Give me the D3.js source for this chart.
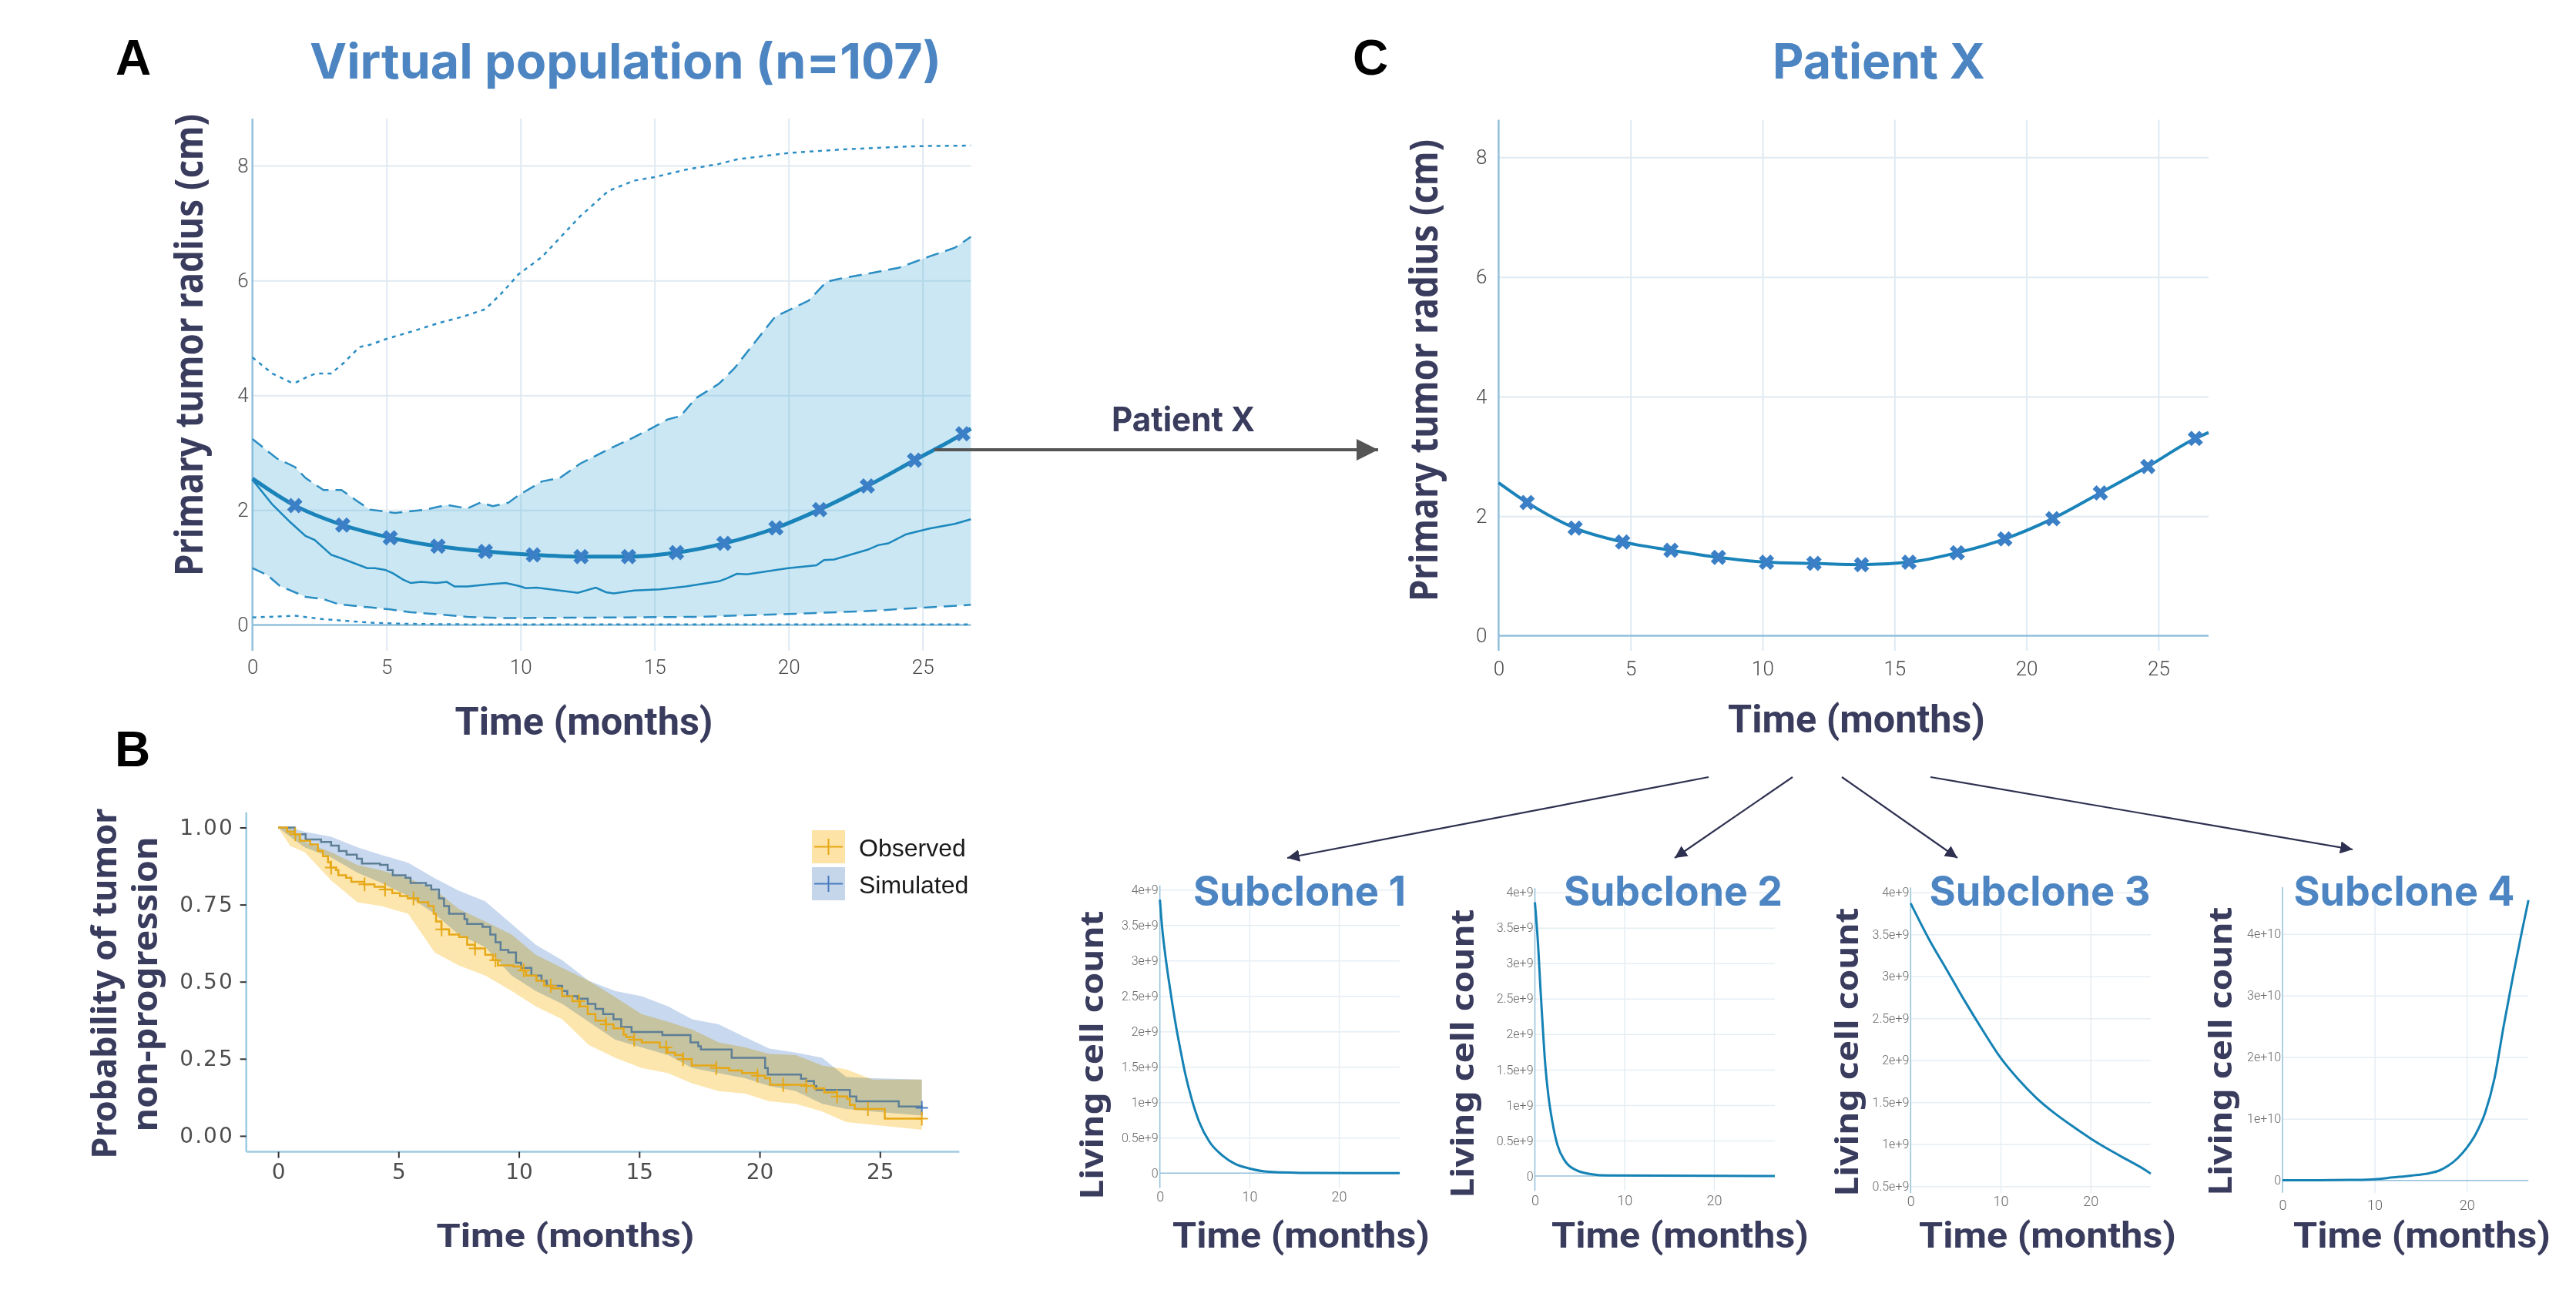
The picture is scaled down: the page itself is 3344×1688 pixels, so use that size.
<!DOCTYPE html>
<html>
<head>
<meta charset="utf-8">
<script src="https://cdn.jsdelivr.net/npm/d3@7"></script>
<style>
    html, body { margin: 0; padding: 0; background: #fff; }
    svg { display: block; }
</style>
</head>
<body>
<div id="figure"></div>
<script>
// ---------- data ----------

const monthTicks = [0, 5, 10, 15, 20, 25];
const gridMonths = [5, 10, 15, 20, 25];
const radiusTicks = [0, 2, 4, 6, 8];

// Panel A: virtual population envelopes [month, cm]
const popMax = [[0,4.66],[0.74,4.38],[1.41,4.23],[1.65,4.23],[2.08,4.33],[2.37,4.38],[2.94,4.38],[3.42,4.57],[3.99,4.84],[4.38,4.88],[5.05,4.99],[6.0,5.12],[6.96,5.26],[7.92,5.38],[8.69,5.50],[9.36,5.81],[9.93,6.11],[10.8,6.41],[12.23,7.12],[13.28,7.56],[14.24,7.74],[15.0,7.80],[16.16,7.93],[17.4,8.03],[18.07,8.11],[19.99,8.22],[21.9,8.28],[24.78,8.34],[26.8,8.35]];
const popUpper = [[0,3.24],[0.91,2.90],[1.59,2.75],[1.98,2.56],[2.65,2.35],[3.32,2.35],[3.9,2.16],[4.38,2.01],[5.33,1.95],[6.48,2.01],[7.25,2.09],[8.02,2.03],[8.5,2.13],[8.97,2.07],[9.55,2.13],[9.93,2.26],[10.8,2.50],[11.46,2.56],[12.23,2.81],[13.28,3.06],[14.24,3.27],[14.9,3.43],[15.49,3.58],[15.97,3.64],[16.54,3.95],[17.4,4.20],[17.98,4.47],[18.65,4.87],[19.5,5.37],[20.18,5.52],[20.75,5.65],[21.42,5.98],[21.9,6.03],[22.86,6.11],[24.1,6.22],[25.26,6.42],[26.2,6.57],[26.8,6.76]];
const popMedian = [[0,2.53],[0.74,2.10],[1.41,1.79],[1.98,1.55],[2.32,1.48],[2.94,1.22],[3.32,1.16],[4.28,0.99],[4.57,0.99],[4.95,0.96],[5.24,0.90],[5.62,0.79],[5.91,0.73],[6.29,0.75],[6.87,0.73],[7.25,0.75],[7.54,0.67],[8.02,0.67],[8.88,0.71],[9.45,0.73],[9.93,0.68],[10.2,0.64],[10.6,0.65],[12.14,0.56],[12.81,0.65],[13.19,0.57],[13.48,0.55],[14.24,0.60],[15.2,0.62],[16.16,0.67],[17.4,0.76],[17.69,0.81],[18.07,0.89],[18.45,0.88],[19.99,0.99],[21.04,1.04],[21.32,1.13],[21.7,1.14],[22.95,1.31],[23.34,1.39],[23.72,1.42],[24.39,1.58],[25.26,1.68],[26.2,1.76],[26.8,1.84]];
const popLower = [[0,0.99],[0.55,0.87],[1.02,0.68],[1.98,0.49],[2.65,0.45],[3.22,0.36],[4.28,0.31],[5.14,0.27],[5.91,0.22],[7.06,0.18],[8.02,0.14],[9.36,0.12],[13.5,0.13],[16.5,0.14],[20,0.19],[22.86,0.24],[26.8,0.35]];
const popMin = [[0,0.13],[1.59,0.16],[2.65,0.10],[4.38,0.04],[5.6,0.02],[8,0.01],[26.8,0.01]];

// Patient X in panel A
const patientA_t = [1.58,3.37,5.14,6.92,8.69,10.48,12.26,14.03,15.82,17.59,19.53,21.16,22.94,24.7,26.5];
const patientA_v = [2.08,1.74,1.52,1.37,1.28,1.22,1.19,1.19,1.26,1.42,1.69,2.01,2.42,2.87,3.33];
const patientA_ends = [[0,2.55],[26.8,3.42]];

// Patient X in panel C
const patientC_t = [1.08,2.90,4.70,6.53,8.33,10.15,11.95,13.75,15.55,17.38,19.18,21.0,22.8,24.6,26.4];
const patientC_v = [2.23,1.80,1.57,1.43,1.31,1.23,1.21,1.19,1.23,1.39,1.62,1.96,2.39,2.83,3.30];
const patientC_ends = [[0,2.56],[26.9,3.40]];

// Panel B: Kaplan-Meier curves [month, probability]
const kmTicks = [0, 0.25, 0.5, 0.75, 1];
const observedKM = [[0,1.0],[0.37,0.986],[0.69,0.978],[0.9,0.957],[1.33,0.945],[1.65,0.924],[1.86,0.907],[2.07,0.887],[2.18,0.870],[2.4,0.862],[2.5,0.845],[2.82,0.837],[3.04,0.824],[3.57,0.816],[4.0,0.808],[4.42,0.799],[4.74,0.787],[5.06,0.778],[5.38,0.770],[5.81,0.758],[6.24,0.745],[6.46,0.720],[6.56,0.695],[6.78,0.670],[7.1,0.653],[7.52,0.645],[7.85,0.620],[8.17,0.608],[8.6,0.587],[8.92,0.570],[9.13,0.553],[9.77,0.549],[10.09,0.537],[10.3,0.520],[10.73,0.503],[11.05,0.487],[11.37,0.478],[11.8,0.453],[12.22,0.437],[12.54,0.420],[12.86,0.395],[13.18,0.374],[13.61,0.362],[13.93,0.349],[14.35,0.328],[14.46,0.320],[14.78,0.312],[15.1,0.303],[15.85,0.287],[16.17,0.270],[16.49,0.262],[16.81,0.249],[17.18,0.228],[18.2,0.220],[18.74,0.212],[19.27,0.204],[19.91,0.195],[20.23,0.187],[20.44,0.166],[21.94,0.162],[22.26,0.154],[22.69,0.141],[23.22,0.128],[23.64,0.120],[23.75,0.100],[23.96,0.087],[25.2,0.056],[26.74,0.056]];
const simulatedKM = [[0,1.0],[0.69,0.978],[1.14,0.961],[1.78,0.953],[2.2,0.941],[2.52,0.924],[2.84,0.912],[3.27,0.899],[3.48,0.883],[4.23,0.879],[4.55,0.862],[4.76,0.845],[5.29,0.837],[5.5,0.820],[6.14,0.812],[6.36,0.799],[6.68,0.770],[6.89,0.745],[7.1,0.720],[7.74,0.703],[7.85,0.687],[8.49,0.678],[8.81,0.653],[9.03,0.628],[9.24,0.603],[9.56,0.595],[9.88,0.562],[10.09,0.545],[10.52,0.520],[10.94,0.503],[11.16,0.487],[11.8,0.470],[12.01,0.453],[12.44,0.445],[12.86,0.428],[13.18,0.412],[13.5,0.395],[13.93,0.378],[14.25,0.353],[14.68,0.337],[15.96,0.327],[17.13,0.303],[17.45,0.291],[17.56,0.280],[18.84,0.253],[20.23,0.220],[20.34,0.199],[21.72,0.185],[21.94,0.178],[22.26,0.162],[22.36,0.149],[23.75,0.128],[24.02,0.112],[25.78,0.095],[26.74,0.091]];
const observedCensor = [0.71,2.2,3.59,4.44,5.62,6.79,8.18,9.03,10.2,11.32,12.5,13.62,14.79,16.12,16.82,18.2,19.91,20.98,21.94,23.22,24.5,26.74];
const simulatedCensor = [26.74];

// confidence ribbons
const ciTimes   = [0,0.5,1.1,2.2,3.3,4.3,5.4,6.5,7.5,8.6,9.7,10.7,11.8,12.9,14.0,15.1,16.2,17.2,18.3,19.4,20.4,21.5,22.6,23.6,24.7,26.74];
const obsUpper  = [1,1,0.953,0.920,0.878,0.861,0.836,0.799,0.736,0.695,0.653,0.587,0.545,0.503,0.45,0.395,0.370,0.345,0.303,0.287,0.266,0.262,0.228,0.216,0.183,0.183];
const obsLower  = [1,0.94,0.92,0.828,0.757,0.745,0.720,0.595,0.553,0.520,0.470,0.420,0.378,0.295,0.253,0.220,0.203,0.170,0.145,0.137,0.112,0.104,0.079,0.045,0.036,0.020];
const simUpper  = [1,1,0.986,0.970,0.936,0.911,0.886,0.836,0.795,0.761,0.687,0.620,0.570,0.503,0.470,0.453,0.420,0.378,0.362,0.320,0.283,0.270,0.253,0.191,0.187,0.183];
const simLower  = [1,0.97,0.936,0.903,0.853,0.820,0.778,0.720,0.653,0.612,0.520,0.470,0.428,0.370,0.312,0.287,0.262,0.220,0.203,0.187,0.162,0.145,0.104,0.087,0.079,0.066];

// Subclones: living cell count [month, cells]
const cloneMonthTicks = [0, 10, 20];
const cellTicks = [0, 0.5e9, 1e9, 1.5e9, 2e9, 2.5e9, 3e9, 3.5e9, 4e9];
const cellTickLabels = ['0', '0.5e+9', '1e+9', '1.5e+9', '2e+9', '2.5e+9', '3e+9', '3.5e+9', '4e+9'];
const bigCellTicks = [0, 1e10, 2e10, 3e10, 4e10];
const bigCellTickLabels = ['0', '1e+10', '2e+10', '3e+10', '4e+10'];

const subclone1 = [[0,3.86e9],[0.24,3.48e9],[0.53,3.15e9],[0.96,2.75e9],[1.39,2.39e9],[1.82,2.06e9],[2.25,1.77e9],[2.82,1.41e9],[3.54,1.05e9],[4.4,0.72e9],[5.55,0.44e9],[6.98,0.25e9],[8.42,0.13e9],[10,0.066e9],[12.2,0.02e9],[17,0.003e9],[26.8,0]];
const subclone2 = [[0,3.86e9],[0.37,3.23e9],[0.6,2.69e9],[0.86,2.14e9],[1.14,1.60e9],[1.51,1.13e9],[1.94,0.77e9],[2.51,0.44e9],[3.37,0.21e9],[4.66,0.08e9],[6.37,0.025e9],[8.1,0.007e9],[26.8,0]];
const subclone3 = [[0,3.87e9],[2,3.45e9],[4,3.08e9],[6,2.71e9],[8,2.36e9],[10,2.03e9],[12,1.77e9],[14,1.55e9],[16,1.37e9],[18,1.215e9],[20,1.07e9],[22,0.94e9],[24,0.82e9],[26,0.70e9],[26.7,0.65e9]];
const subclone4 = [[0,0.004e10],[4,0.005e10],[8,0.01e10],[10,0.02e10],[12,0.05e10],[14,0.08e10],[16,0.12e10],[17,0.16e10],[18,0.24e10],[19,0.36e10],[20,0.53e10],[21,0.76e10],[22,1.1e10],[23,1.65e10],[24,2.5e10],[25,3.3e10],[26,4.05e10],[26.7,4.55e10]];

// ---------- styling ----------
const W = 3344, H = 1688;
const TITLE_BLUE = '#4c85c2';
const NAVY = '#3a3c5e';
const LINE_BLUE = '#1a83b9';
const MARK_BLUE = '#3b7fc6';
const GRID = '#dfeaf2';
const AXIS_BLUE = '#92c0dc';

const svg = d3.select('#figure').append('svg')
    .attr('width', W)
    .attr('height', H);

svg.append('rect').attr('width', W).attr('height', H).attr('fill', '#fff');

const defs = svg.append('defs');

function arrowMarker(id, color, size) {
    defs.append('marker')
        .attr('id', id)
        .attr('viewBox', '0 -5 10 10')
        .attr('refX', 10)
        .attr('refY', 0)
        .attr('markerUnits', 'userSpaceOnUse')
        .attr('markerWidth', size)
        .attr('markerHeight', size)
        .attr('orient', 'auto')
        .append('path')
        .attr('d', 'M0,-5L10,0L0,5Z')
        .attr('fill', color);
}
arrowMarker('arrow-grey', '#555', 28);
arrowMarker('arrow-navy', '#2e3050', 16);

function label(parent, str, x, y, o = {}) {
    const t = parent.append('text')
        .attr('x', x)
        .attr('y', y)
        .attr('text-anchor', o.anchor || 'middle')
        .attr('font-family', o.family || 'Roboto, sans-serif')
        .attr('font-size', o.size)
        .attr('font-weight', o.weight || 700)
        .attr('fill', o.fill || NAVY)
        .text(str);
    if (o.len) t.attr('textLength', o.len).attr('lengthAdjust', 'spacingAndGlyphs');
    if (o.rotate) t.attr('transform', `rotate(${o.rotate},${x},${y})`);
    return t;
}

// ---------- tumor radius panels (A and C) ----------
function radiusPanel(o) {
    const g = svg.append('g');
    const x = d3.scaleLinear().domain([0, o.xMax]).range([o.left, o.right]);
    const y = d3.scaleLinear().domain(o.yDomain).range([o.bottom, o.top]);
    const w = o.right - o.left, h = o.bottom - o.top;

    // grid
    g.append('g')
        .attr('transform', `translate(0,${o.top})`)
        .call(d3.axisTop(x).tickValues(gridMonths).tickSize(-h).tickFormat(''))
        .call(a => a.select('.domain').remove())
        .selectAll('line').attr('stroke', GRID).attr('stroke-width', 2);
    g.append('g')
        .attr('transform', `translate(${o.left},0)`)
        .call(d3.axisLeft(y).tickValues(radiusTicks.filter(v => v > 0)).tickSize(-w).tickFormat(''))
        .call(a => a.select('.domain').remove())
        .selectAll('line').attr('stroke', GRID).attr('stroke-width', 2);

    // zero line and y axis line
    g.append('line')
        .attr('x1', o.left).attr('x2', o.right)
        .attr('y1', y(0)).attr('y2', y(0))
        .attr('stroke', AXIS_BLUE).attr('stroke-width', 2.5);
    g.append('line')
        .attr('x1', o.left).attr('x2', o.left)
        .attr('y1', o.top).attr('y2', o.bottom)
        .attr('stroke', AXIS_BLUE).attr('stroke-width', 2.5);

    // tick labels
    const xl = g.append('g')
        .attr('transform', `translate(0,${o.bottom})`)
        .call(d3.axisBottom(x).tickValues(monthTicks).tickSize(0).tickPadding(o.xPad));
    const yl = g.append('g')
        .attr('transform', `translate(${o.left},0)`)
        .call(d3.axisLeft(y).tickValues(radiusTicks).tickSize(0).tickPadding(o.yPad));
    [xl, yl].forEach(a => {
        a.select('.domain').remove();
        a.attr('font-family', 'Roboto, sans-serif').attr('font-size', 26);
        a.selectAll('text').attr('fill', '#4a4a4a').attr('font-weight', 300);
    });

    const line = d3.line().x(d => x(d[0])).y(d => y(d[1]));

    if (o.population) {
        const band = popUpper.concat(popLower.slice().reverse());
        g.append('path')
            .attr('d', line(band) + 'Z')
            .attr('fill', '#4fb0d8')
            .attr('fill-opacity', 0.3);

        [[popMax, '5,6'], [popMin, '5,6'], [popUpper, '17,9'], [popLower, '17,9']].forEach(([s, dash]) => {
            g.append('path')
                .attr('d', line(s))
                .attr('fill', 'none')
                .attr('stroke', '#2a8dc3')
                .attr('stroke-width', 2.5)
                .attr('stroke-dasharray', dash);
        });

        g.append('path')
            .attr('d', line(popMedian))
            .attr('fill', 'none')
            .attr('stroke', '#1b87bd')
            .attr('stroke-width', 2.5);
    }

    // patient X curve
    const pts = o.marks.t.map((t, i) => [t, o.marks.v[i]]);
    const curve = [o.ends[0]].concat(pts, [o.ends[1]]);
    g.append('path')
        .attr('d', line.curve(d3.curveMonotoneX)(curve))
        .attr('fill', 'none')
        .attr('stroke', LINE_BLUE)
        .attr('stroke-width', o.lineWidth);

    g.selectAll('.mark')
        .data(pts)
        .enter()
        .append('path')
        .attr('class', 'mark')
        .attr('d', d3.symbol().type(d3.symbolCross).size(250))
        .attr('transform', d => `translate(${x(d[0])},${y(d[1])}) rotate(45)`)
        .attr('fill', MARK_BLUE);

    return { x, y };
}

radiusPanel({
    left: 327.7, right: 1260.3, top: 154, bottom: 845,
    xMax: 26.8, yDomain: [-0.45, 8.82], xPad: 12, yPad: 5,
    population: true, lineWidth: 5,
    marks: { t: patientA_t, v: patientA_v }, ends: patientA_ends
});

radiusPanel({
    left: 1945.4, right: 2867, top: 155.4, bottom: 845,
    xMax: 26.9, yDomain: [-0.25, 8.63], xPad: 14, yPad: 15,
    population: false, lineWidth: 4,
    marks: { t: patientC_t, v: patientC_v }, ends: patientC_ends
});

// ---------- panel B: Kaplan-Meier ----------
(function kmPanel() {
    const g = svg.append('g');
    const x = d3.scaleLinear().domain([0, 25]).range([361.1, 1142.3]);
    const y = d3.scaleLinear().domain([0, 1]).range([1474.9, 1074.5]);
    const axisY = 1495.6, axisX = 319.7;

    const ribbon = (lo, hi) => d3.area()
        .x((d, i) => x(ciTimes[i]))
        .y0((d, i) => y(lo[i]))
        .y1((d, i) => y(hi[i]));

    g.append('path').datum(ciTimes)
        .attr('d', ribbon(simLower, simUpper))
        .attr('fill', '#c8d8ee')
        .style('mix-blend-mode', 'multiply');
    g.append('path').datum(ciTimes)
        .attr('d', ribbon(obsLower, obsUpper))
        .attr('fill', '#fde6ad')
        .style('mix-blend-mode', 'multiply');

    const step = d3.line().curve(d3.curveStepAfter).x(d => x(d[0])).y(d => y(d[1]));
    const valueAt = (s, t) => s.filter(d => d[0] <= t).pop()[1];

    [[simulatedKM, simulatedCensor, '#5d7f96', '#4a7dbf'], [observedKM, observedCensor, '#e6a817', '#e6a817']]
        .forEach(([s, cens, col, cCol]) => {
            g.append('path')
                .attr('d', step(s))
                .attr('fill', 'none')
                .attr('stroke', col)
                .attr('stroke-width', 2.5);
            g.selectAll(null)
                .data(cens)
                .enter()
                .append('path')
                .attr('d', t => `M${x(t)},${y(valueAt(s, t)) - 9}V${y(valueAt(s, t)) + 9}M${x(t) - 8},${y(valueAt(s, t))}H${x(t) + 8}`)
                .attr('stroke', cCol)
                .attr('stroke-width', 2);
        });

    // axis lines
    g.append('line').attr('x1', axisX).attr('x2', 1245.4).attr('y1', axisY).attr('y2', axisY)
        .attr('stroke', '#9ccbe0').attr('stroke-width', 2.5);
    g.append('line').attr('x1', axisX).attr('x2', axisX).attr('y1', 1054.8).attr('y2', axisY)
        .attr('stroke', '#9ccbe0').attr('stroke-width', 2.5);

    const xa = g.append('g')
        .attr('transform', `translate(0,${axisY})`)
        .call(d3.axisBottom(x).tickValues(monthTicks).tickSize(8).tickPadding(8));
    const ya = g.append('g')
        .attr('transform', `translate(${axisX},0)`)
        .call(d3.axisLeft(y).tickValues(kmTicks).tickSize(8).tickPadding(8).tickFormat(d3.format('.2f')));
    [xa, ya].forEach(a => {
        a.select('.domain').remove();
        a.attr('font-family', '"DejaVu Sans", sans-serif').attr('font-size', 28);
        a.selectAll('line').attr('stroke', '#333').attr('stroke-width', 2);
        a.selectAll('text').attr('fill', '#4d4d4d');
    });
    ya.selectAll('text').attr('letter-spacing', 2);

    // legend
    const legend = [['Observed', '#fde3a5', '#e6a817', 1078], ['Simulated', '#c5d5ea', '#4a7dbf', 1126]];
    legend.forEach(([name, fill, col, top]) => {
        g.append('rect').attr('x', 1054).attr('y', top).attr('width', 43).attr('height', 43).attr('fill', fill);
        g.append('path')
            .attr('d', `M1057,${top + 21.5}H1094M1075.5,${top + 11}V${top + 32}`)
            .attr('stroke', col).attr('stroke-width', 2);
        label(g, name, 1115, top + 34, { anchor: 'start', family: '"Liberation Sans", Arial, sans-serif', size: 32, weight: 400, fill: '#1a1a1a' });
    });
})();

// ---------- subclone panels ----------
function clonePanel(o) {
    const g = svg.append('g');
    const x = d3.scaleLinear().domain([0, o.xMax]).range([o.left, o.right]);
    const y = d3.scaleLinear().domain(o.yDomain).range([o.bottom, o.top]);
    const w = o.right - o.left, h = o.bottom - o.top;

    g.append('g')
        .attr('transform', `translate(0,${o.top})`)
        .call(d3.axisTop(x).tickValues([10, 20]).tickSize(-h).tickFormat(''))
        .call(a => a.select('.domain').remove())
        .selectAll('line').attr('stroke', '#e6eef3').attr('stroke-width', 1.5);
    g.append('g')
        .attr('transform', `translate(${o.left},0)`)
        .call(d3.axisLeft(y).tickValues(o.ticks.filter(v => v > 0)).tickSize(-w).tickFormat(''))
        .call(a => a.select('.domain').remove())
        .selectAll('line').attr('stroke', '#e6eef3').attr('stroke-width', 1.5);

    if (o.yDomain[0] < 0) {
        g.append('line')
            .attr('x1', o.left).attr('x2', o.right)
            .attr('y1', y(0)).attr('y2', y(0))
            .attr('stroke', AXIS_BLUE).attr('stroke-width', 1.5);
    }
    g.append('line')
        .attr('x1', o.left).attr('x2', o.left)
        .attr('y1', o.top).attr('y2', o.bottom)
        .attr('stroke', AXIS_BLUE).attr('stroke-width', 1.5);

    const xl = g.append('g')
        .attr('transform', `translate(0,${o.bottom})`)
        .call(d3.axisBottom(x).tickValues(cloneMonthTicks).tickSize(0).tickPadding(o.xPad));
    const yl = g.append('g')
        .attr('transform', `translate(${o.left},0)`)
        .call(d3.axisLeft(y).tickValues(o.ticks).tickSize(0).tickPadding(2)
            .tickFormat((d, i) => o.tickLabels[i]));
    [xl, yl].forEach(a => {
        a.select('.domain').remove();
        a.attr('font-family', 'Roboto, sans-serif').attr('font-size', 16);
        a.selectAll('text').attr('fill', '#666').attr('font-weight', 300);
    });
    xl.attr('font-size', 18);

    g.append('path')
        .attr('d', d3.line().curve(d3.curveMonotoneX).x(d => x(d[0])).y(d => y(d[1]))(o.series))
        .attr('fill', 'none')
        .attr('stroke', '#1582b5')
        .attr('stroke-width', 3);
}

clonePanel({ left: 1505.7, right: 1817.1, top: 1149.7, bottom: 1542.6, xMax: 26.8,
    yDomain: [-0.21e9, 4.06e9], ticks: cellTicks, tickLabels: cellTickLabels, series: subclone1, xPad: 5 });
clonePanel({ left: 1992.5, right: 2304, top: 1153.2, bottom: 1546.3, xMax: 26.8,
    yDomain: [-0.21e9, 4.06e9], ticks: cellTicks, tickLabels: cellTickLabels, series: subclone2, xPad: 6 });
clonePanel({ left: 2480.3, right: 2791.9, top: 1152.2, bottom: 1549, xMax: 26.7,
    yDomain: [0.42e9, 4.06e9], ticks: cellTicks.slice(1), tickLabels: cellTickLabels.slice(1), series: subclone3, xPad: 4 });
clonePanel({ left: 2963, right: 3282.3, top: 1152, bottom: 1548.8, xMax: 26.7,
    yDomain: [-0.2e10, 4.76e10], ticks: bigCellTicks, tickLabels: bigCellTickLabels, series: subclone4, xPad: 9 });

// ---------- arrows ----------
svg.append('line')
    .attr('x1', 1213).attr('y1', 584).attr('x2', 1789).attr('y2', 584)
    .attr('stroke', '#555').attr('stroke-width', 4)
    .attr('marker-end', 'url(#arrow-grey)');

[[2218, 1009, 1671, 1114], [2327, 1009, 2174, 1114], [2391, 1009, 2541, 1114], [2506, 1009, 3054, 1103]]
    .forEach(([x1, y1, x2, y2]) => {
        svg.append('line')
            .attr('x1', x1).attr('y1', y1).attr('x2', x2).attr('y2', y2)
            .attr('stroke', '#2e3050').attr('stroke-width', 2.2)
            .attr('marker-end', 'url(#arrow-navy)');
    });

// ---------- text ----------
const T = svg.append('g');
const letter = { family: '"Liberation Sans", Arial, sans-serif', size: 64, fill: '#000', anchor: 'start' };
label(T, 'A', 150, 97, letter);
label(T, 'B', 149, 995, letter);
label(T, 'C', 1756, 97, letter);

const bigTitle = { family: 'Inter, sans-serif', size: 63, fill: TITLE_BLUE };
label(T, 'Virtual population (n=107)', 812, 102, { ...bigTitle, len: 820 });
label(T, 'Patient X', 2439, 102, { ...bigTitle, len: 276 });

const cloneTitle = { family: 'Inter, sans-serif', size: 54, fill: TITLE_BLUE };
[['Subclone 1', 1687, 276], ['Subclone 2', 2172, 284], ['Subclone 3', 2648, 287], ['Subclone 4', 3121, 287]]
    .forEach(([s, cx, len]) => label(T, s, cx, 1176, { ...cloneTitle, len }));

label(T, 'Patient X', 1536, 560, { family: 'Inter, sans-serif', size: 44, len: 186 });

// axis titles
label(T, 'Time (months)', 758, 954, { size: 50, len: 335 });
label(T, 'Time (months)', 2410, 951, { size: 50, len: 334 });
label(T, 'Time (months)', 734, 1619, { size: 42, len: 335 });
[1689, 2181, 2658, 3144].forEach(cx => label(T, 'Time (months)', cx, 1620, { size: 47, len: 334 }));

const yTitle = { family: '"Noto Sans", sans-serif', rotate: -90 };
label(T, 'Primary tumor radius (cm)', 263, 448, { ...yTitle, size: 50, len: 600 });
label(T, 'Primary tumor radius (cm)', 1866, 481, { ...yTitle, size: 50, len: 600 });
label(T, 'Probability of tumor', 151, 1277, { ...yTitle, size: 44, len: 455 });
label(T, 'non-progression', 204, 1278, { ...yTitle, size: 44, len: 383 });
[[1432, 1370], [1913, 1368], [2412, 1366], [2897, 1365]]
    .forEach(([bx, cy]) => label(T, 'Living cell count', bx, cy, { ...yTitle, size: 41, len: 375 }));
</script>
</body>
</html>
